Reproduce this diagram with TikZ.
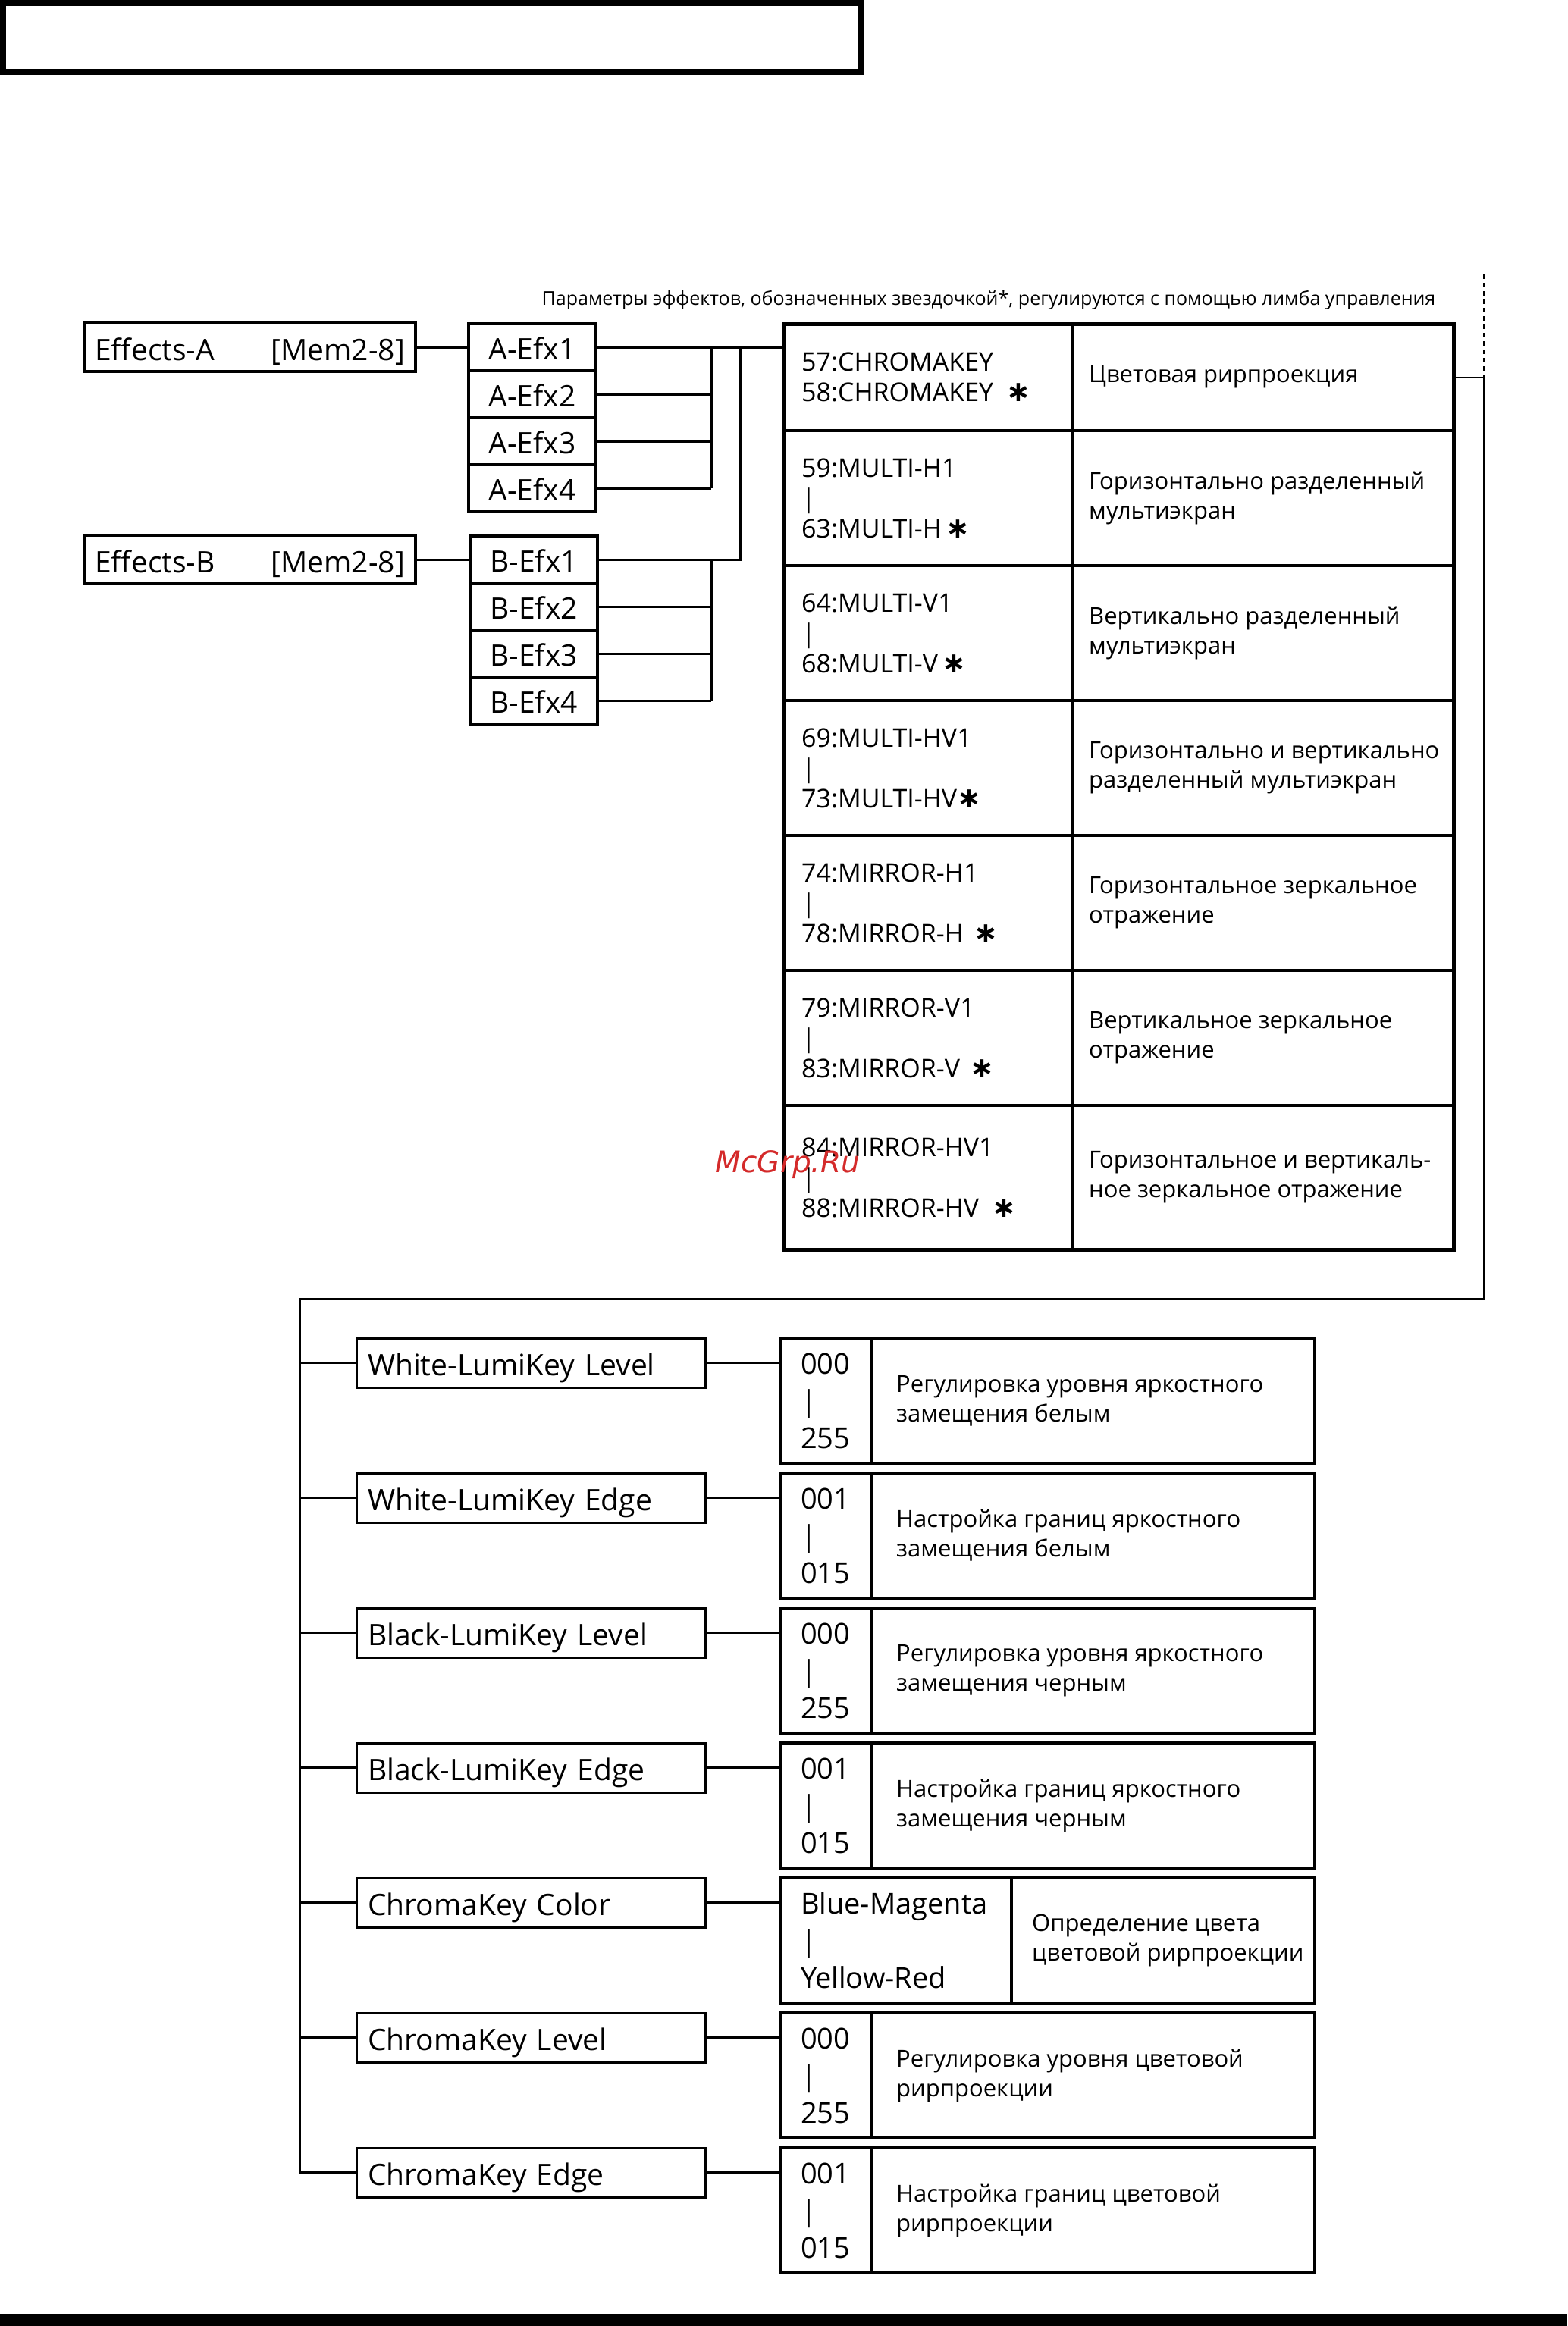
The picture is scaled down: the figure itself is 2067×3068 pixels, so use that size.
\documentclass[tikz,border=0pt]{standalone}
\usepackage{fontspec}
\setmainfont{Open Sans}
\newfontfamily\markfont{DejaVu Sans}
\usepackage{tikz}
\usetikzlibrary{positioning}
\definecolor{markRed}{HTML}{D42A2A}
\DeclareRobustCommand{\effstar}{{\markfont\bfseries\fontsize{38}{38}\selectfont ∗}}

\tikzset{
  wire/.style={line width=3pt},
  membox/.style={draw, line width=3.5pt, outer sep=0pt, anchor=west, minimum height=64pt,
    text width=409pt, inner xsep=14pt, text height=34pt, text depth=0pt, font=\fontsize{39}{46}\selectfont},
  efxbox/.style={draw, line width=3.5pt, outer sep=0pt, minimum width=168pt,
    minimum height=62pt, inner sep=0pt, text height=32pt, text depth=0pt, font=\fontsize{39}{46}\selectfont},
  tabcell/.style={draw, line width=4pt, outer sep=0pt, anchor=north west},
  tabtext/.style={inner sep=0pt, align=left, anchor=west, font=\fontsize{34}{40}\selectfont},
  descfont/.style={font=\fontsize{31}{39}\selectfont},
  keybox/.style={draw, line width=3pt, outer sep=0pt, anchor=north west, minimum height=65pt,
    text width=430pt, inner xsep=15pt, align=left, text height=34pt, text depth=0pt,
    font=\fontsize{39}{46}\selectfont},
  valcell/.style={draw, line width=4pt, outer sep=0pt, anchor=north west, minimum height=165pt,
    align=left, font=\fontsize{38}{49}\selectfont},
}

\begin{document}
\begin{tikzpicture}[x=1pt, y=-1pt]
\useasboundingbox (0,0) rectangle (2067,3068);
\draw[line width=8pt] (4,4) rectangle (1136,95);
\fill (0,3052) rectangle (2067,3068);

\node[inner sep=0pt, font=\fontsize{25}{30}\selectfont] (note) at (1304,396)
  {Параметры эффектов, обозначенных звездочкой*, регулируются с помощью лимба управления};

% effect groups
\node[membox] (effA) at (111,458) {Effects-A\hfill[Mem2-8]};
\node[membox] (effB) at (111,738) {Effects-B\hfill[Mem2-8]};
\node[efxbox, anchor=north west] (aefx1) at (618,427) {A-Efx1};
\node[efxbox, anchor=north west] (befx1) at (620,707) {B-Efx1};
\foreach \i/\j in {2/1,3/2,4/3} {
  \node[efxbox, below=0pt of aefx\j] (aefx\i) {A-Efx\i};
  \node[efxbox, below=0pt of befx\j] (befx\i) {B-Efx\i};
}

% effect table
\foreach \i/\rowy/\rowh/\codes/\descs in {%
  1/427/141/{57:CHROMAKEY\\58:CHROMAKEY\hspace{.5em}\effstar}/{Цветовая рирпроекция},%
  2/568/178/{59:MULTI-H1\\\textbar\\63:MULTI-H\,\effstar}/{Горизонтально разделенный\\мультиэкран},%
  3/746/178/{64:MULTI-V1\\\textbar\\68:MULTI-V\,\effstar}/{Вертикально разделенный\\мультиэкран},%
  4/924/178/{69:MULTI-HV1\\\textbar\\73:MULTI-HV\effstar}/{Горизонтально и вертикально\\разделенный мультиэкран},%
  5/1102/178/{74:MIRROR-H1\\\textbar\\78:MIRROR-H\hspace{.4em}\effstar}/{Горизонтальное зеркальное\\отражение},%
  6/1280/178/{79:MIRROR-V1\\\textbar\\83:MIRROR-V\hspace{.4em}\effstar}/{Вертикальное зеркальное\\отражение},%
  7/1458/190/{84:MIRROR-HV1\\\textbar\\88:MIRROR-HV\hspace{.5em}\effstar}/{Горизонтальное и вертикаль-\\ное зеркальное отражение}%
}{
  \node[tabcell, minimum width=381pt, minimum height=\rowh] (tl\i) at (1034,\rowy) {};
  \node[tabcell, minimum width=502pt, minimum height=\rowh] (tr\i) at (tl\i.north east) {};
  \node[tabtext, right=23pt of tl\i.west] (tlt\i) {\codes};
  \node[tabtext, descfont, right=21pt of tr\i.west] (trt\i) {\descs};
}
\draw[line width=5pt] (tl1.north west) rectangle (tr7.south east);

% key parameters
\foreach \i/\nm/\colw/\lo/\hi/\descs in {%
  1/White-LumiKey Level/119/000/255/{Регулировка уровня яркостного\\замещения белым},%
  2/White-LumiKey Edge/119/001/015/{Настройка границ яркостного\\замещения белым},%
  3/Black-LumiKey Level/119/000/255/{Регулировка уровня яркостного\\замещения черным},%
  4/Black-LumiKey Edge/119/001/015/{Настройка границ яркостного\\замещения черным},%
  5/ChromaKey Color/304/\mbox{Blue-Magenta}/\mbox{Yellow-Red}/{Определение цвета\\цветовой рирпроекции},%
  6/ChromaKey Level/119/000/255/{Регулировка уровня цветовой\\рирпроекции},%
  7/ChromaKey Edge/119/001/015/{Настройка границ цветовой\\рирпроекции}%
}{
  \pgfmathsetmacro\keyy{1765+178*(\i-1)}
  \pgfmathsetmacro\lw{\colw-52}
  \pgfmathsetmacro\dpad{\colw>200 ? 27 : 33}
  \node[keybox] (key\i) at (470,\keyy) {\nm};
  \node[valcell, minimum width=\colw, text width=\lw pt, inner xsep=26pt] (val\i) at (1030,\keyy) {\lo\\\textbar\\\hi};
  \node[valcell, minimum width=704-\colw] (dsc\i) at (val\i.north east) {};
  \node[tabtext, descfont, right=\dpad pt of dsc\i.west] (dsct\i) {\descs};
  \draw[wire] (key\i.east) -- (key\i.east -| val\i.west);
}

% connectors
\coordinate (busA) at (938,0);
\coordinate (joinAB) at (976,0);
\coordinate (railTop) at (1957,362);
\coordinate (railTurn) at (1957,1713);
\coordinate (spine) at (395,1713);
\foreach \i in {1,...,4} {
  \draw[wire] (aefx\i.east) -- (aefx\i.east -| busA);
  \draw[wire] (befx\i.east) -- (befx\i.east -| busA);
}
\draw[wire] (aefx1.east -| busA) -- (aefx4.east -| busA);
\draw[wire] (befx1.east -| busA) -- (befx4.east -| busA);
\draw[wire] (effA) -- (aefx1);
\draw[wire] (effB) -- (befx1);
\draw[wire] (befx1.east) -- (befx1.east -| joinAB) -- (aefx1.east -| joinAB);
\draw[wire] (aefx1.east) -- (aefx1.east -| tl1.west);
\draw[line width=2pt] (tr1.east) -- (tr1.east -| railTurn);
\draw[line width=2pt, dash pattern=on 6pt off 5pt] (railTop) -- (tr1.east -| railTurn);
\draw[wire] (tr1.east -| railTurn) -- (railTurn) -- (spine) -- (spine |- key7.west);
\foreach \i in {1,...,7}
  \draw[wire] (spine |- key\i.west) -- (key\i.west);

\node[inner sep=0pt, text=markRed, font=\markfont\itshape\fontsize{39}{44}\selectfont] (mark) at (1039,1536) {McGrp.Ru};
\end{tikzpicture}
\end{document}
